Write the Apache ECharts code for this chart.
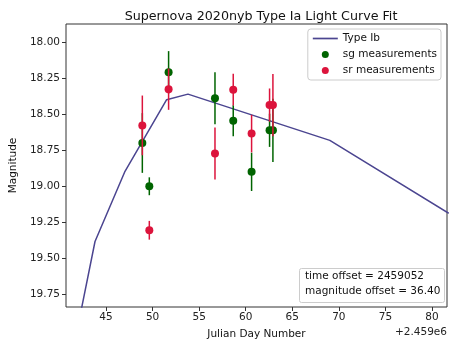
<!DOCTYPE html>
<html>
<head>
<meta charset="utf-8">
<script src="https://cdn.jsdelivr.net/npm/echarts@6/dist/echarts.min.js"></script>
<style>html,body{margin:0;padding:0;background:#fff}#c{width:450px;height:347px}</style>
</head>
<body>
<div id="c"></div>
<script>
// Data
const xTicks = [45, 50, 55, 60, 65, 70, 75, 80];
const yTicks = [18.00, 18.25, 18.50, 18.75, 19.00, 19.25, 19.50, 19.75];

const fitDays = [42.0, 43.82, 47.04, 51.51, 53.80, 69.03, 81.8];
const fitMag  = [19.966, 19.383, 18.896, 18.40, 18.361, 18.682, 19.187];

const sgDays = [48.9, 49.65, 51.72, 56.7, 58.66, 60.63, 62.56, 62.92];
const sgMag  = [18.70, 19.00, 18.21, 18.39, 18.546, 18.90, 18.612, 18.612];
const sgErr  = [0.207, 0.062, 0.147, 0.18, 0.108, 0.133, 0.115, 0.219];

const srDays = [48.9, 49.65, 51.72, 56.7, 58.66, 60.63, 62.56, 62.92];
const srMag  = [18.578, 19.305, 18.327, 18.773, 18.33, 18.635, 18.437, 18.437];
const srErr  = [0.207, 0.065, 0.143, 0.18, 0.11, 0.13, 0.115, 0.216];

const FONT = 'DejaVu Sans';
const FS = 10.5;
const chart = echarts.init(document.getElementById('c'), null, {renderer: 'canvas'});

function pairs(xs, ys) { return xs.map((x, i) => [x, ys[i]]); }
function triples(xs, ys, es) { return xs.map((x, i) => [x, ys[i], es[i]]); }
function errSeries(xs, ys, es, color, z) {
  return {
    type: 'custom',
    silent: true,
    data: triples(xs, ys, es),
    renderItem: function (params, api) {
      const x = api.value(0), y = api.value(1), e = api.value(2);
      const p1 = api.coord([x, y - e]);
      const p2 = api.coord([x, y + e]);
      return {type: 'line', shape: {x1: p1[0], y1: p1[1], x2: p2[0], y2: p2[1]},
              style: {stroke: color, lineWidth: 1.5}};
    },
    z: z
  };
}

const option = {
  animation: false,
  backgroundColor: '#fff',
  title: {
    text: 'Supernova 2020nyb Type Ia Light Curve Fit',
    left: 256, top: 5, textAlign: 'center',
    textStyle: {fontFamily: FONT, fontSize: 12.7, fontWeight: 'normal', color: '#111'}
  },
  grid: {left: 66, right: 3, top: 24, bottom: 40, show: true, borderColor: '#333', borderWidth: 1, backgroundColor: 'transparent'},
  xAxis: {
    type: 'value', min: 40.705, max: 81.61,
    name: 'Julian Day Number', nameLocation: 'middle', nameGap: 22,
    nameTextStyle: {fontFamily: FONT, fontSize: FS, color: '#111'},
    axisLine: {show: false},
    splitLine: {show: false},
    axisTick: {show: true, inside: false, length: 4, customValues: xTicks, lineStyle: {color: '#333'}},
    axisLabel: {customValues: xTicks, fontFamily: FONT, fontSize: FS, color: '#222', margin: 5,
                formatter: v => String(Math.round(v))}
  },
  yAxis: {
    type: 'value', inverse: true, min: 17.875, max: 19.837,
    name: 'Magnitude', nameLocation: 'middle', nameGap: 41,
    nameTextStyle: {fontFamily: FONT, fontSize: FS, color: '#111'},
    axisLine: {show: false},
    splitLine: {show: false},
    axisTick: {show: true, inside: false, length: 4, customValues: yTicks, lineStyle: {color: '#333'}},
    axisLabel: {customValues: yTicks, fontFamily: FONT, fontSize: FS, color: '#222', margin: 6,
                formatter: v => v.toFixed(2)}
  },
  legend: {
    orient: 'vertical', right: 9, top: 29,
    data: [
      {name: 'Type Ib', icon: 'path://M0,0L22,0L22,1.5L0,1.5Z'},
      {name: 'sg measurements', icon: 'circle'},
      {name: 'sr measurements', icon: 'circle'}
    ],
    itemWidth: 25, itemHeight: 7, itemGap: 5,
    padding: [4, 4, 4, 5],
    borderColor: '#ccc', borderWidth: 1, borderRadius: 3, backgroundColor: '#fff',
    textStyle: {fontFamily: FONT, fontSize: FS, color: '#111'}
  },
  graphic: [
    {type: 'rect', left: 299, top: 268, shape: {width: 145, height: 34, r: 2},
     style: {fill: '#fff', stroke: '#ccc', lineWidth: 1}, z: 100},
    {type: 'text', left: 305, top: 269, z: 101,
     style: {text: 'time offset = 2459052\nmagnitude offset = 36.40', font: FS + 'px "DejaVu Sans"', fill: '#111', lineHeight: 15}},
    {type: 'text', right: 3, top: 327,
     style: {text: '+2.459e6', font: FS + 'px "DejaVu Sans"', fill: '#222'}}
  ],
  series: [
    {name: 'Type Ib', type: 'line', data: pairs(fitDays, fitMag), symbol: 'none', showSymbol: false,
     lineStyle: {color: '#4B4590', width: 1.5}, itemStyle: {color: '#4B4590'}, clip: true, z: 2},
    errSeries(sgDays, sgMag, sgErr, '#006400', 3),
    {name: 'sg measurements', type: 'scatter', data: pairs(sgDays, sgMag), symbolSize: 8,
     itemStyle: {color: '#006400', opacity: 1}, z: 4},
    errSeries(srDays, srMag, srErr, '#DC143C', 5),
    {name: 'sr measurements', type: 'scatter', data: pairs(srDays, srMag), symbolSize: 8,
     itemStyle: {color: '#DC143C', opacity: 1}, z: 6}
  ]
};
chart.setOption(option);
</script>
</body>
</html>
